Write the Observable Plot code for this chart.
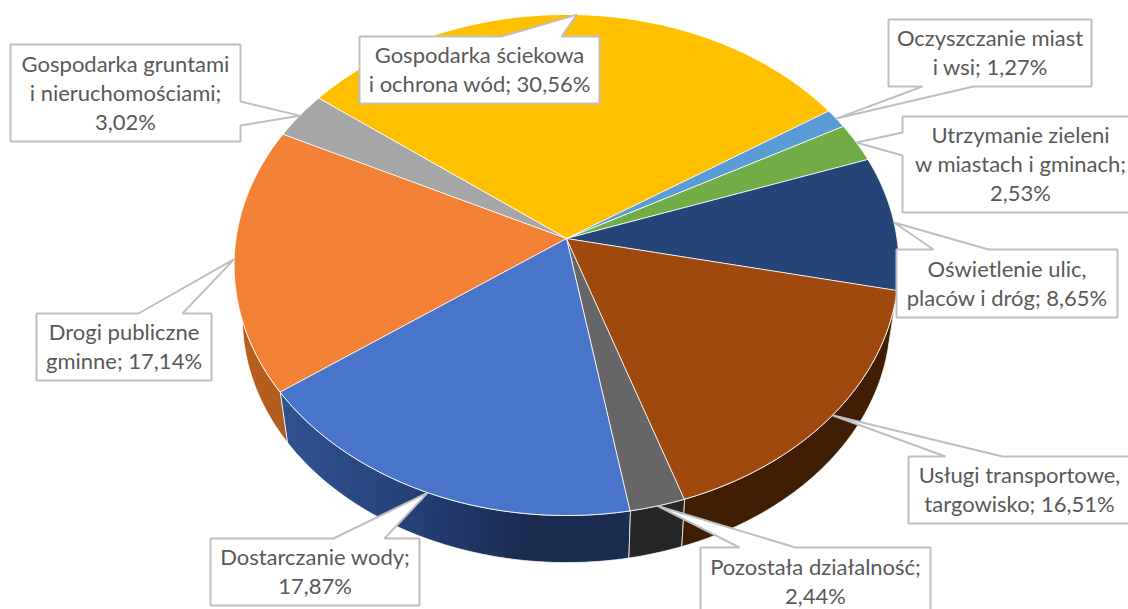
<!DOCTYPE html>
<html>
<head>
<meta charset="utf-8">
<script src="https://cdn.jsdelivr.net/npm/d3@7"></script>
<script src="https://cdn.jsdelivr.net/npm/@observablehq/plot@0.6"></script>
<style>html,body{margin:0;padding:0;background:#fff}svg{display:block}</style>
</head>
<body>
<div id="chart"></div>
<script>
// DATA (clockwise from the yellow slice)
const labels = [
  "Gospodarka ściekowa\ni ochrona wód; 30,56%",
  "Oczyszczanie miast\ni wsi; 1,27%",
  "Utrzymanie zieleni\nw miastach i gminach;\n2,53%",
  "Oświetlenie ulic,\nplaców i dróg; 8,65%",
  "Usługi transportowe,\ntargowisko; 16,51%",
  "Pozostała działalność;\n2,44%",
  "Dostarczanie wody;\n17,87%",
  "Drogi publiczne\ngminne; 17,14%",
  "Gospodarka gruntami\ni nieruchomościami;\n3,02%"
];
const values = [30.56, 1.27, 2.53, 8.65, 16.51, 2.44, 17.87, 17.14, 3.02];
const topColors = ["#FFC000", "#5B9BD5", "#70AD47", "#254478", "#A0490F", "#666666", "#4875CA", "#F38135", "#A6A6A6"];
const wallColors = ["#997300", "#37618A", "#43682B", "#162948", "#3F1E03", "#262626", "url(#wallBlue)", "url(#wallOrange)", "#636363"];

// LAYOUT of the label boxes: [x1, x2, y1, y2, side of the pointer, pointer start, pointer end]
const boxes = [
  [359, 599, 36, 103, "top", 501, 561],
  [888, 1091, 19, 86, "bottom", 922, 973],
  [902, 1138, 116, 212, "left", 132, 155],
  [896, 1117, 249, 317, "top", 933, 988],
  [908, 1130, 456, 523, "top", 945, 1002],
  [700, 930, 547, 615, "top", 739, 795],
  [210, 419, 538, 605, "top", 333, 384],
  [36, 211, 313, 380, "top", 138, 182],
  [10, 240, 44, 141, "right", 101, 125]
];

// Perspective projection of the pie's rim
const cx = 566, cy = 238, R = 330.5, K = 247.7, P = 0.1058;
const startDeg = -53, depth = 54, shrink = 0.975;
const rad = d => d * Math.PI / 180;
const rim = deg => {
  const c = Math.cos(rad(deg)), s = Math.sin(rad(deg)), d = 1 + P * c;
  return [cx + R * s / d, cy - K * c / d];
};
const lower = ([x, y]) => [cx + shrink * (x - cx), cy + depth + shrink * (y - cy)];

const total = d3.sum(values);
const cum = d3.cumsum(values);
const slices = values.map((v, i) => {
  const a0 = startDeg + 360 * (cum[i] - v) / total;
  const a1 = startDeg + 360 * cum[i] / total;
  const n = Math.max(2, Math.ceil(a1 - a0));
  const arc = d3.range(n + 1).map(j => rim(a0 + (a1 - a0) * j / n));
  return {a0, a1, mid: (a0 + a1) / 2, arc};
});

const poly = (pts, options) => Plot.line(pts, {x: d => d[0], y: d => d[1], curve: "linear-closed", ...options});

const wallOrder = [3, 4, 5, 6, 7];
const walls = wallOrder.map(i => poly(
  [...slices[i].arc, ...slices[i].arc.map(lower).reverse()],
  {fill: wallColors[i], stroke: "#fff", strokeWidth: 1, strokeOpacity: 0.75}
));
const faces = slices.map((s, i) => poly(
  [[cx, cy], ...s.arc],
  {fill: topColors[i], stroke: "#fff", strokeWidth: 1, strokeOpacity: 0.85, strokeLinejoin: "round"}
));
const callouts = boxes.map(([x1, x2, y1, y2, side, p0, p1], i) => {
  const tip = rim(slices[i].mid);
  const pts = [];
  pts.push([x1, y1]);
  if (side === "top") pts.push([p0, y1], tip, [p1, y1]);
  pts.push([x2, y1]);
  if (side === "right") pts.push([x2, p0], tip, [x2, p1]);
  pts.push([x2, y2]);
  if (side === "bottom") pts.push([p1, y2], tip, [p0, y2]);
  pts.push([x1, y2]);
  if (side === "left") pts.push([x1, p1], tip, [x1, p0]);
  return poly(pts, {fill: "#fff", stroke: "#BFBFBF", strokeWidth: 2, strokeLinejoin: "miter"});
});
const texts = Plot.text(labels, {
  x: (d, i) => (boxes[i][0] + boxes[i][1]) / 2,
  y: (d, i) => (boxes[i][2] + boxes[i][3]) / 2 - 1.5,
  text: d => d,
  fill: "#595959",
  fontSize: 22,
  lineHeight: 1.32,
  textAnchor: "middle",
  lineAnchor: "middle"
});

const chart = Plot.plot({
  width: 1128,
  height: 609,
  margin: 0,
  style: {fontFamily: "Lato, sans-serif", background: "#fff"},
  x: {domain: [0, 1128], range: [0, 1128], axis: null},
  y: {domain: [0, 609], range: [0, 609], axis: null},
  marks: [...walls, ...faces, ...callouts, texts]
});

// Gradients used by the pie's side wall
const ns = "http://www.w3.org/2000/svg";
const defs = document.createElementNS(ns, "defs");
const addGradient = (id, stops) => {
  const g = document.createElementNS(ns, "linearGradient");
  g.setAttribute("id", id);
  g.setAttribute("gradientUnits", "objectBoundingBox");
  stops.forEach(([o, c]) => {
    const s = document.createElementNS(ns, "stop");
    s.setAttribute("offset", o);
    s.setAttribute("stop-color", c);
    g.appendChild(s);
  });
  defs.appendChild(g);
};
addGradient("wallBlue", [[0, "#2F5390"], [0.35, "#26427A"], [0.72, "#192B4E"], [1, "#1A2C50"]]);
addGradient("wallOrange", [[0, "#B86120"], [1, "#B05A1C"]]);
chart.insertBefore(defs, chart.firstChild);
document.getElementById("chart").appendChild(chart);
</script>
</body>
</html>
